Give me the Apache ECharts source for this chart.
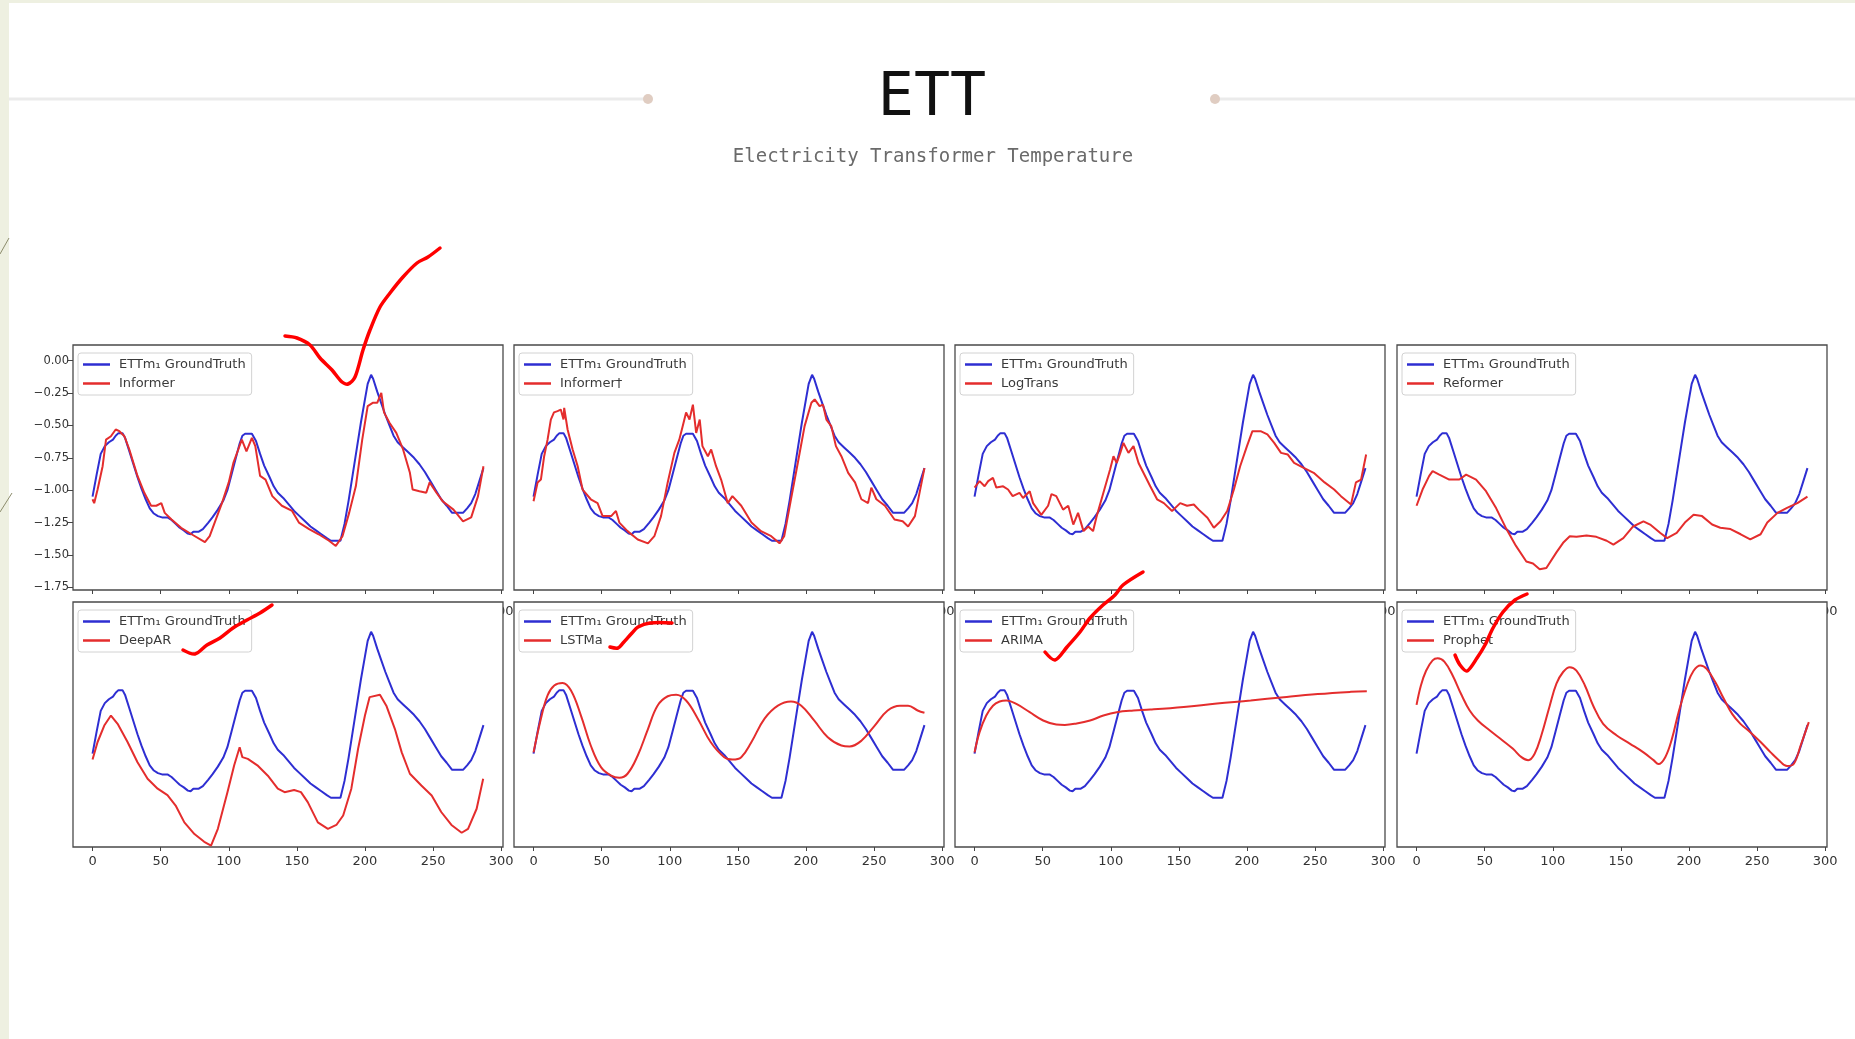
<!DOCTYPE html>
<html>
<head>
<meta charset="utf-8">
<title>ETT</title>
<script src="https://cdn.jsdelivr.net/npm/echarts@6/dist/echarts.min.js"></script>
<style>
  html, body { margin: 0; padding: 0; background: #fff; }
  #main { width: 1855px; height: 1039px; }
</style>
</head>
<body>
<div id="main"></div>
<script>
// values: [time step, value]
var groundTruth = [[0,-1.05],[3,-0.88],[6,-0.72],[9,-0.66],[12,-0.63],[15,-0.61],[17,-0.58],[19,-0.56],[22,-0.56],[24,-0.6],[27,-0.7],[30,-0.8],[33,-0.9],[36,-0.99],[39,-1.07],[42,-1.14],[45,-1.18],[48,-1.2],[51,-1.21],[55,-1.21],[58,-1.23],[61,-1.26],[64,-1.29],[67,-1.31],[70,-1.335],[72,-1.34],[74,-1.32],[78,-1.32],[81,-1.3],[85,-1.25],[88,-1.21],[92,-1.15],[96,-1.08],[99,-1.0],[102,-0.88],[105,-0.76],[108,-0.64],[110,-0.58],[112,-0.565],[117,-0.565],[120,-0.62],[123,-0.72],[126,-0.81],[130,-0.9],[133,-0.97],[136,-1.02],[140,-1.06],[144,-1.11],[148,-1.16],[152,-1.2],[156,-1.24],[160,-1.28],[164,-1.31],[168,-1.34],[172,-1.37],[175,-1.39],[182,-1.39],[185,-1.26],[188,-1.08],[191,-0.88],[194,-0.68],[197,-0.48],[200,-0.3],[202,-0.18],[204.5,-0.11],[206,-0.14],[209,-0.24],[212,-0.33],[215,-0.42],[218,-0.5],[221,-0.58],[224,-0.63],[228,-0.67],[232,-0.71],[236,-0.75],[240,-0.8],[244,-0.86],[248,-0.93],[252,-1.0],[256,-1.07],[260,-1.12],[264,-1.175],[272,-1.175],[275,-1.14],[278,-1.1],[281,-1.03],[284,-0.93],[287,-0.83]];

var informerPred = [[0,-1.07],[1.2,-1.1],[3.7,-0.995],[7.4,-0.815],[9.9,-0.61],[13.5,-0.584],[17,-0.532],[19.7,-0.545],[23.4,-0.584],[27,-0.686],[33,-0.89],[38,-1.02],[43,-1.12],[46.8,-1.12],[50.5,-1.1],[53,-1.175],[58,-1.226],[65,-1.29],[72.7,-1.34],[82.5,-1.4],[86,-1.355],[90,-1.24],[95,-1.1],[100,-0.94],[103.4,-0.79],[107,-0.686],[109.6,-0.61],[113,-0.7],[117,-0.596],[119.5,-0.66],[123,-0.89],[127,-0.918],[132,-1.046],[139,-1.12],[146.5,-1.16],[151.5,-1.25],[159,-1.3],[166,-1.34],[173.6,-1.39],[178.6,-1.43],[183.5,-1.355],[188.4,-1.175],[193.3,-0.97],[198,-0.61],[202,-0.352],[205.7,-0.326],[209,-0.326],[212,-0.249],[214,-0.4],[218,-0.48],[223,-0.558],[228,-0.686],[233,-0.866],[235,-0.995],[240,-1.008],[245,-1.02],[247.5,-0.94],[252.5,-1.02],[257,-1.085],[265,-1.15],[272,-1.24],[278,-1.21],[283,-1.046],[287,-0.815]];

var informerDaggerPred = [[0,-1.085],[3,-0.94],[5.4,-0.918],[7.8,-0.738],[10.3,-0.61],[12.7,-0.455],[15,-0.4],[17.6,-0.39],[20,-0.378],[22,-0.455],[22.5,-0.365],[25,-0.532],[28.7,-0.686],[32.4,-0.815],[36,-0.995],[42,-1.07],[47,-1.1],[50.7,-1.2],[57,-1.2],[60.5,-1.16],[63,-1.25],[69,-1.316],[76.5,-1.38],[84,-1.41],[88.7,-1.355],[93.6,-1.2],[98.5,-0.94],[103.4,-0.712],[107,-0.61],[109.5,-0.506],[112,-0.4],[114.5,-0.455],[117,-0.34],[119.4,-0.558],[122,-0.455],[124,-0.66],[128,-0.738],[130.4,-0.686],[134,-0.815],[137.7,-0.918],[142.6,-1.1],[146,-1.046],[152.5,-1.12],[160,-1.25],[167,-1.316],[174.5,-1.355],[180.6,-1.41],[184,-1.355],[189,-1.07],[194,-0.79],[199,-0.506],[204,-0.326],[206.4,-0.3],[210,-0.352],[212.5,-0.34],[215,-0.455],[218.6,-0.506],[222,-0.66],[226,-0.738],[231,-0.866],[236,-0.94],[240.7,-1.07],[245.6,-1.1],[248,-0.98],[251.7,-1.07],[258,-1.12],[265,-1.226],[271,-1.24],[275,-1.28],[280,-1.2],[287,-0.83]];

var logTransPred = [[0,-0.98],[3.7,-0.93],[7.4,-0.97],[10,-0.93],[13.5,-0.905],[16,-0.98],[21,-0.97],[24.6,-0.995],[28,-1.046],[33,-1.02],[35.6,-1.06],[40.5,-1.008],[43,-1.1],[49,-1.19],[54,-1.12],[56.5,-1.03],[60,-1.046],[65,-1.15],[68.8,-1.12],[72.5,-1.265],[76,-1.175],[80,-1.316],[83.5,-1.28],[87,-1.316],[89.7,-1.2],[94.6,-1.02],[99.5,-0.84],[102,-0.738],[104.4,-0.79],[107,-0.712],[109.3,-0.635],[113,-0.712],[116.7,-0.66],[120.4,-0.79],[124,-0.866],[129,-0.97],[134,-1.07],[139,-1.1],[145,-1.16],[151,-1.1],[156,-1.12],[161,-1.11],[164.6,-1.15],[171,-1.213],[175.7,-1.29],[180.6,-1.24],[185.5,-1.16],[190.4,-0.995],[195,-0.815],[200,-0.66],[204,-0.545],[210,-0.545],[215,-0.57],[220,-0.635],[225,-0.712],[230,-0.725],[234.6,-0.79],[242,-0.83],[249,-0.866],[257,-0.94],[264,-0.995],[269,-1.046],[276.4,-1.11],[280,-0.94],[283.8,-0.918],[287.5,-0.725]];

var reformerPred = [[0,-1.12],[4.4,-0.995],[9.3,-0.89],[11.8,-0.853],[16.7,-0.88],[24,-0.918],[31.4,-0.918],[36.4,-0.88],[43.7,-0.918],[51,-1.008],[58.5,-1.14],[66,-1.3],[73,-1.43],[80.6,-1.55],[85.5,-1.566],[90.4,-1.61],[95.3,-1.6],[102.7,-1.48],[107.6,-1.406],[112.5,-1.355],[117.4,-1.36],[124.8,-1.35],[132,-1.36],[139.6,-1.39],[144.5,-1.42],[151.8,-1.37],[159,-1.28],[166.6,-1.24],[171.5,-1.265],[179,-1.33],[184,-1.37],[191,-1.33],[197,-1.25],[203.4,-1.19],[209.6,-1.2],[217,-1.265],[223,-1.29],[230.5,-1.3],[238,-1.34],[245,-1.38],[252.6,-1.34],[257.5,-1.25],[265,-1.175],[272,-1.136],[279.6,-1.1],[287,-1.05]];

var deepARPred = [[0,-1.095],[3.7,-0.96],[8.6,-0.833],[13.5,-0.756],[18.4,-0.82],[25.7,-0.96],[33,-1.116],[40.4,-1.244],[47.8,-1.32],[55,-1.37],[61,-1.45],[67.4,-1.58],[74.8,-1.67],[82,-1.73],[87,-1.76],[92,-1.63],[99,-1.35],[104,-1.14],[108,-1.0],[110,-1.077],[114,-1.09],[121,-1.14],[128.7,-1.22],[136,-1.32],[141,-1.347],[148,-1.33],[153,-1.347],[158,-1.424],[165.4,-1.58],[172.8,-1.63],[179,-1.6],[184,-1.527],[190,-1.32],[195,-1.01],[200,-0.756],[203.4,-0.614],[211,-0.596],[215.7,-0.68],[222,-0.86],[227,-1.04],[233,-1.205],[241.4,-1.296],[249,-1.373],[256,-1.5],[263.5,-1.6],[271,-1.66],[275.7,-1.63],[282,-1.475],[286.8,-1.244]];

var lstmaPred = [[0,-1.04],[5.4,-0.78],[10.3,-0.6],[15.2,-0.524],[21.3,-0.504],[27.5,-0.563],[34.8,-0.756],[42,-0.987],[49.5,-1.154],[57,-1.22],[63,-1.236],[69,-1.205],[76.5,-1.064],[84,-0.86],[91,-0.68],[98.5,-0.607],[104.7,-0.596],[112,-0.64],[120.6,-0.78],[130,-0.96],[140,-1.077],[146,-1.095],[152.5,-1.077],[160,-0.96],[169.6,-0.78],[179.4,-0.68],[189,-0.648],[196.6,-0.68],[206,-0.794],[216,-0.923],[226,-0.987],[232,-0.995],[240.7,-0.95],[250.5,-0.833],[260,-0.717],[269,-0.68],[275,-0.68],[282,-0.717],[287,-0.735]];

var arimaPred = [[0,-1.04],[3.7,-0.884],[8.6,-0.756],[13.5,-0.68],[18.4,-0.648],[23.3,-0.64],[30.7,-0.666],[40.5,-0.73],[50.4,-0.794],[60,-0.825],[66.3,-0.828],[75,-0.817],[84.8,-0.794],[94.6,-0.756],[104.4,-0.73],[116.7,-0.717],[129,-0.71],[153.6,-0.69],[178,-0.663],[202.7,-0.64],[227,-0.614],[252,-0.59],[276.4,-0.573],[288,-0.568]];

var prophetPred = [[0,-0.674],[3.2,-0.524],[7,-0.41],[11.8,-0.33],[15.5,-0.314],[20.4,-0.34],[26.5,-0.447],[32.7,-0.59],[39,-0.717],[45,-0.794],[53.6,-0.87],[63.4,-0.95],[70.8,-1.013],[77,-1.077],[82,-1.1],[86.7,-1.05],[91.6,-0.91],[97.8,-0.68],[102.7,-0.51],[107.6,-0.42],[112.5,-0.383],[117.4,-0.41],[123.6,-0.524],[129.7,-0.68],[137,-0.82],[147,-0.91],[156.8,-0.974],[166.6,-1.04],[174,-1.1],[177.6,-1.13],[182.6,-1.077],[187.5,-0.936],[192.4,-0.73],[198.5,-0.524],[203.4,-0.41],[208.4,-0.37],[213,-0.396],[219.4,-0.5],[225.6,-0.627],[231.7,-0.743],[237.8,-0.82],[245,-0.884],[252.6,-0.96],[260,-1.04],[266,-1.1],[272,-1.146],[277,-1.128],[282,-0.987],[288,-0.807]];

var gtName = 'ETTm\u2081 GroundTruth';
var modelNames = ['Informer', 'Informer\u2020', 'LogTrans', 'Reformer', 'DeepAR', 'LSTMa', 'ARIMA', 'Prophet'];
var modelPreds = [informerPred, informerDaggerPred, logTransPred, reformerPred, deepARPred, lstmaPred, arimaPred, prophetPred];
var smoothModel = [false, false, false, false, false, true, true, true];
var xTicks = [0, 50, 100, 150, 200, 250, 300];
var yTicks = [0, -0.25, -0.5, -0.75, -1, -1.25, -1.5, -1.75];

var blue = '#2e2ed2';
var red = '#e42d2d';
var lefts = [73, 514, 955, 1397];
var tops = [345, 602];
var font = 'DejaVu Sans';

var chart = echarts.init(document.getElementById('main'));
var option = {
  backgroundColor: '#fff',
  animation: false,
  grid: [], xAxis: [], yAxis: [], legend: [], series: [],
  graphic: []
};

for (var i = 0; i < 8; i++) {
  var row = Math.floor(i / 4), col = i % 4;
  // bottom row sits on its own layer so it hides the top row's x labels (shared x axis look)
  var lv = row === 1 ? 1 : 0;
  option.grid.push({
    left: lefts[col], top: tops[row], width: 430, height: 245,
    show: true, backgroundColor: '#fff', borderColor: '#4a4a4a', borderWidth: 1.3,
    zlevel: lv
  });
  option.xAxis.push({
    type: 'value', gridIndex: i, min: -14.35, max: 301.35, position: 'bottom',
    axisLine: { show: false, onZero: false }, splitLine: { show: false },
    axisTick: { show: true, customValues: xTicks, length: 4, lineStyle: { color: '#444', width: 1 } },
    axisLabel: { show: true, customValues: xTicks, fontSize: 13, fontFamily: font, color: '#333', margin: lv ? 8 : 15 },
    zlevel: lv
  });
  option.yAxis.push({
    type: 'value', gridIndex: i, min: -1.77, max: 0.12, position: 'left',
    axisLine: { show: false, onZero: false }, splitLine: { show: false },
    axisTick: { show: i === 0, customValues: yTicks, length: 5, lineStyle: { color: '#444', width: 1 } },
    axisLabel: {
      show: i === 0, customValues: yTicks, fontSize: 11.5, fontFamily: font, color: '#333', margin: 4,
      formatter: function (v) { return (v < 0 ? '\u2212' : '') + Math.abs(v).toFixed(2); }
    },
    zlevel: lv
  });
  option.legend.push({
    data: [gtName, modelNames[i]],
    orient: 'vertical', left: lefts[col] + 5, top: tops[row] + 8,
    padding: [4, 6, 4, 5], itemGap: 4, itemWidth: 27, itemHeight: 2.5, icon: 'rect',
    backgroundColor: 'rgba(255,255,255,0.85)', borderColor: '#d2d2d2', borderWidth: 1, borderRadius: 3,
    textStyle: { fontFamily: font, fontSize: 13, color: '#3a3a3a', padding: [0, 0, 0, 4], lineHeight: 15 },
    selectedMode: false, zlevel: lv, z: 5
  });
  option.series.push({
    type: 'line', name: gtName, xAxisIndex: i, yAxisIndex: i, data: groundTruth,
    symbol: 'none', showSymbol: false, color: blue,
    lineStyle: { width: 2, color: blue }, zlevel: lv, silent: true
  });
  option.series.push({
    type: 'line', name: modelNames[i], xAxisIndex: i, yAxisIndex: i, data: modelPreds[i],
    symbol: 'none', showSymbol: false, color: red, smooth: smoothModel[i] ? 0.4 : false,
    lineStyle: { width: 2, color: red }, zlevel: lv, silent: true
  });
}

// slide decoration: side strip, title, header rule
option.graphic = [
  { type: 'rect', shape: { x: 0, y: 0, width: 9, height: 1039 }, style: { fill: '#eef0e1' }, z: 0 },
  { type: 'rect', shape: { x: 0, y: 0, width: 1855, height: 3 }, style: { fill: '#eef0e1' }, z: 0 },
  { type: 'line', shape: { x1: 0, y1: 254, x2: 9, y2: 238 }, style: { stroke: '#8c8c6c', lineWidth: 1 } },
  { type: 'line', shape: { x1: 0, y1: 512, x2: 12, y2: 493 }, style: { stroke: '#8c8c6c', lineWidth: 1 } },
  { type: 'line', shape: { x1: 9, y1: 99, x2: 644, y2: 99 }, style: { stroke: '#ebebeb', lineWidth: 3 } },
  { type: 'line', shape: { x1: 1219, y1: 99, x2: 1855, y2: 99 }, style: { stroke: '#ebebeb', lineWidth: 3 } },
  { type: 'circle', shape: { cx: 648, cy: 99, r: 5 }, style: { fill: '#e0cdc2' } },
  { type: 'circle', shape: { cx: 1215, cy: 99, r: 5 }, style: { fill: '#e0cdc2' } },
  { type: 'text', x: 932, y: 99, style: { text: 'ETT', font: '60px "DejaVu Sans Mono"', fill: '#111', textAlign: 'center', textVerticalAlign: 'middle' } },
  { type: 'text', x: 933, y: 157, style: { text: 'Electricity Transformer Temperature', font: '19px "DejaVu Sans Mono"', fill: '#6a6a6a', textAlign: 'center', textVerticalAlign: 'middle' } }
];

// hand-drawn red check marks on the slide
var checks = [
  [[285,336],[297,338],[310,345],[320,358],[332,370],[342,382],[348,384],[355,377],[363,350],[370,330],[380,307],[390,293],[403,277],[417,263],[428,257],[440,248]],
  [[183,650],[195,654],[207,645],[220,638],[233,628],[247,620],[260,613],[272,605]],
  [[610,647],[618,648],[623,643],[632,633],[638,627],[650,623],[672,623]],
  [[1045,652],[1055,660],[1067,647],[1080,632],[1090,618],[1103,605],[1115,595],[1123,585],[1143,572]],
  [[1455,655],[1460,665],[1467,671],[1477,658],[1485,645],[1493,628],[1503,612],[1515,600],[1527,594]]
];
checks.forEach(function (pts) {
  option.graphic.push({
    type: 'polyline', shape: { points: pts, smooth: 0.3 },
    style: { stroke: '#ff0000', lineWidth: 3.5, lineCap: 'round', lineJoin: 'round', fill: null },
    zlevel: 2, z: 100
  });
});

chart.setOption(option);
window.addEventListener('resize', function () { chart.resize(); });
</script>
</body>
</html>
